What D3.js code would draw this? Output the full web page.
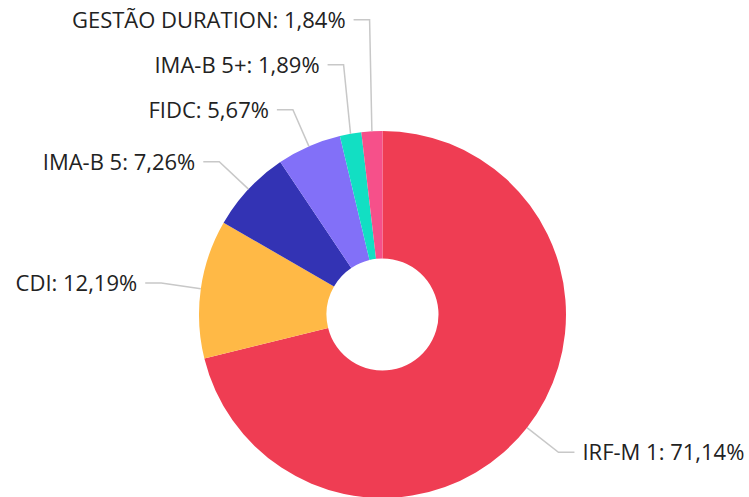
<!DOCTYPE html>
<html><head><meta charset="utf-8">
<script src="https://cdn.jsdelivr.net/npm/d3@7/dist/d3.min.js"></script>
<style>html,body{margin:0;padding:0;background:#fff;} svg{display:block;}</style>
</head><body>
<svg id="chart" width="749" height="497"></svg>
<script>
const categories = ["IRF-M 1", "CDI", "IMA-B 5", "FIDC", "IMA-B 5+", "GESTÃO DURATION"];
const values = [71.14, 12.19, 7.26, 5.67, 1.89, 1.84];
const valueLabels = ["71,14%", "12,19%", "7,26%", "5,67%", "1,89%", "1,84%"];
const colors = ["#ef3d53", "#ffb946", "#3333b4", "#8270f8", "#12dfc3", "#f6508a"];

const svg = d3.select("#chart");
const cx = 382.5, cy = 314.5, R = 183.5, r0 = 56;
const len1 = 40, len2 = 16, gap = 8, spacing = 45;
const fontSize = 22;

const data = categories.map((c, i) => ({name: c, value: values[i], label: valueLabels[i], color: colors[i]}));
const pie = d3.pie().value(d => d.value).sort(null);
const arcs = pie(data);
const arc = d3.arc().innerRadius(r0).outerRadius(R);

const g = svg.append("g").attr("transform", `translate(${cx},${cy})`);
g.selectAll("path.slice").data(arcs).enter().append("path")
  .attr("class", "slice")
  .attr("d", arc)
  .attr("fill", d => d.data.color);

const labels = arcs.map(a => {
  const m = (a.startAngle + a.endAngle) / 2;
  const sx = Math.sin(m), sy = -Math.cos(m);
  return {
    a, m,
    p0: [R * sx, R * sy],
    p1: [(R + len1) * sx, (R + len1) * sy],
    right: sx >= 0
  };
});
labels.forEach(l => l.y = l.p1[1]);
["left", "right"].forEach(side => {
  const group = labels.filter(l => (side === "right") === l.right).sort((a, b) => a.y - b.y);
  for (let i = group.length - 2; i >= 0; i--) {
    group[i].y = Math.min(group[i].y, group[i + 1].y - spacing);
  }
});

labels.forEach(l => {
  const dir = l.right ? 1 : -1;
  const x1 = l.p1[0], y1 = l.y;
  const x2 = x1 + dir * len2;
  g.append("path")
    .attr("d", d3.line()([l.p0, [x1, y1], [x2, y1]]))
    .attr("fill", "none")
    .attr("stroke", "#c8c8c8")
    .attr("stroke-width", 1.5);
  g.append("text")
    .attr("x", x2 + dir * gap)
    .attr("y", y1 + 2)
    .attr("dominant-baseline", "middle")
    .attr("text-anchor", l.right ? "start" : "end")
    .attr("font-family", "'Open Sans', sans-serif")
    .attr("font-size", fontSize)
    .attr("fill", "#222")
    .text(`${l.a.data.name}: ${l.a.data.label}`);
});
</script>
</body></html>
